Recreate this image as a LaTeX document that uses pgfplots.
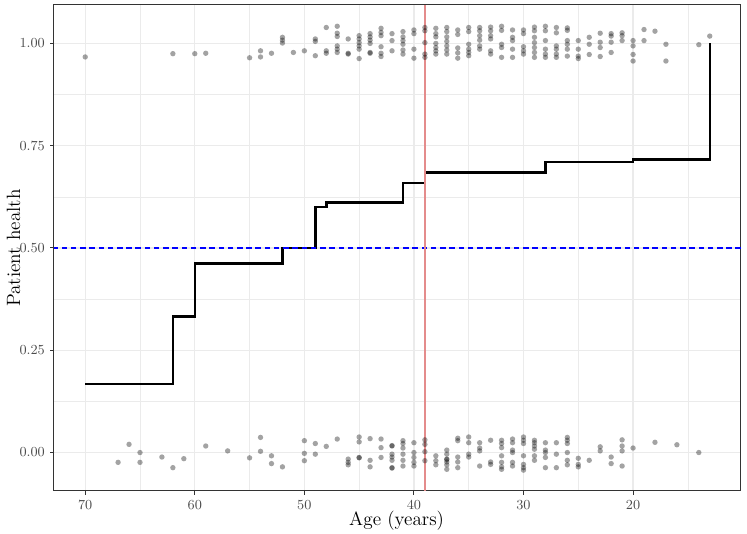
\documentclass[border=0pt]{standalone}
\usepackage{pgfplots}
\pgfplotsset{compat=1.18}
\usepackage{pgfplotstable}

\definecolor{gridc}{RGB}{235,235,235}
\definecolor{vred}{RGB}{228,140,140}

\pgfplotstableread{
x y
70 0.167
62 0.333
60 0.462
52 0.500
49 0.600
48 0.611
41 0.659
39 0.684
28 0.710
20 0.716
13 1.000
}\steptab

\pgfplotstableread{
x y
70 0.967
62 0.975
60 0.975
59 0.976
55 0.965
54 0.982
54 0.967
53 0.976
52 1.015
52 1.008
52 1.001
51 0.978
50 0.982
49 1.011
49 1.005
49 0.970
48 1.039
48 0.982
48 0.976
47 1.042
47 1.025
47 1.017
47 0.994
47 0.986
47 0.978
46 1.011
46 0.976
46 0.974
45 1.019
45 1.011
45 1.002
45 0.994
45 0.986
45 0.963
44 1.024
44 1.016
44 1.008
44 1.000
44 0.978
44 0.976
43 1.037
43 1.027
43 1.019
43 0.992
43 0.976
43 0.968
42 1.024
42 1.007
42 0.982
41 1.029
41 1.016
41 1.007
41 0.998
41 0.984
41 0.974
40 1.033
40 1.024
40 0.986
40 0.964
39 1.039
39 1.031
39 1.002
39 0.974
39 0.966
38 1.037
38 1.024
38 1.016
38 1.000
38 0.990
38 0.982
38 0.974
37 1.039
37 1.029
37 1.016
37 1.005
37 0.994
37 0.984
37 0.974
36 1.033
36 1.022
36 0.989
36 0.977
36 0.964
35 1.039
35 1.029
35 0.998
35 0.986
35 0.978
35 0.970
34 1.039
34 1.031
34 1.019
34 1.008
34 0.994
34 0.986
33 1.040
33 1.031
33 1.019
33 1.011
33 0.982
33 0.974
32 1.042
32 1.032
32 0.998
32 0.990
32 0.966
31 1.033
31 1.015
31 1.007
31 0.986
31 0.966
30 1.033
30 1.024
30 0.992
30 0.982
30 0.974
29 1.040
29 1.031
29 1.015
29 1.002
29 0.990
29 0.978
29 0.966
28 1.042
28 1.031
28 1.007
28 0.986
28 0.974
28 0.966
27 1.039
27 1.026
27 0.994
27 0.986
27 0.974
27 0.966
26 1.038
26 1.032
26 1.007
26 0.998
26 0.986
26 0.969
25 1.007
25 0.986
25 0.969
25 0.963
24 1.015
24 0.998
24 0.973
23 1.025
23 1.003
23 0.990
23 0.968
22 1.024
22 1.018
22 1.003
22 0.978
21 1.026
21 1.019
21 1.007
20 1.007
20 0.994
20 0.973
20 0.957
19 1.034
19 1.007
18 1.030
17 0.998
17 0.957
14 0.997
13 1.018
67 -0.024
66 0.020
65 0.000
65 -0.024
63 -0.011
62 -0.037
61 -0.015
59 0.016
57 0.004
55 -0.013
54 0.037
54 0.003
53 -0.008
53 -0.027
52 -0.035
50 0.029
50 -0.002
50 -0.020
49 0.022
49 -0.004
48 0.015
47 0.033
46 -0.016
46 -0.024
46 -0.030
45 0.038
45 0.026
45 -0.012
45 -0.013
44 0.034
44 -0.019
44 -0.035
43 0.033
43 0.012
43 -0.012
42 0.016
42 0.017
42 -0.004
42 -0.011
42 -0.019
42 -0.038
42 -0.037
41 0.029
41 0.022
41 0.011
41 -0.004
41 -0.019
41 -0.033
40 0.024
40 0.000
40 -0.012
40 -0.024
40 -0.033
39 0.031
39 0.020
39 0.002
39 -0.020
38 -0.008
38 -0.020
38 -0.030
37 0.006
37 -0.004
37 -0.016
37 -0.023
37 -0.030
37 -0.041
37 -0.017
36 0.035
36 0.029
36 -0.011
36 -0.023
36 -0.037
35 0.038
35 0.024
35 -0.004
35 -0.011
34 0.024
34 0.011
34 0.004
34 -0.033
33 0.030
33 -0.023
33 -0.029
32 0.030
32 0.022
32 0.012
32 -0.008
32 -0.024
32 -0.035
32 -0.041
31 0.033
31 0.024
31 0.006
31 0.000
31 -0.024
31 -0.033
30 0.038
30 0.030
30 0.022
30 -0.008
30 -0.029
30 -0.037
30 -0.043
29 0.030
29 0.024
29 0.016
29 0.008
29 -0.008
29 -0.019
28 0.024
28 0.006
28 0.000
28 -0.012
28 -0.037
27 0.024
27 -0.004
27 -0.037
26 0.037
26 0.030
26 0.022
26 0.000
26 -0.019
26 -0.030
25 -0.014
25 -0.029
25 -0.035
24 -0.019
23 0.014
23 0.004
22 -0.011
22 -0.027
21 0.031
21 0.016
21 0.004
21 -0.033
20 0.011
18 0.025
16 0.019
14 0.000
}\pointtab

\begin{document}
\begin{tikzpicture}
\begin{axis}[
  name=ax,
  scale only axis,
  width=446.55pt, height=315.9pt,
  x dir=reverse,
  xmin=10.15, xmax=72.85,
  ymin=-0.094, ymax=1.094,
  xtick={20,30,40,50,60,70},
  minor xtick={15,25,35,45,55,65},
  ytick={0,0.25,0.5,0.75,1},
  yticklabels={0.00,0.25,0.50,0.75,1.00},
  minor ytick={0.125,0.375,0.625,0.875},
  grid=both,
  major grid style={draw=gridc, line width=0.9pt},
  minor grid style={draw=gridc, line width=0.45pt},
  xtick pos=bottom, ytick pos=left,
  tick align=outside,
  major tick length=2.4pt,
  minor tick length=0pt,
  major tick style={draw=black!80, line width=0.65pt},
  axis line style={draw=black!80, line width=0.65pt},
  ticklabel style={font=\fontsize{9}{11}\selectfont, text=black!70},
  xlabel={Age (years)},
  ylabel={Patient health},
  every axis x label/.style={at={(axis cs:41.58,-0.179)}, anchor=base, inner sep=0pt, font=\fontsize{12.5}{15}\selectfont},
  every axis y label/.style={at={(axis cs:75.95,0.5)}, rotate=90, anchor=base, inner sep=0pt, font=\fontsize{12.5}{15}\selectfont},
  clip=true,
]
\addplot[only marks, mark=*, mark size=1.75pt,
  mark options={draw opacity=0, fill=black, fill opacity=0.36}]
  table[x=x, y=y] {\pointtab};
\addplot[const plot mark left, black, line width=1.6pt, line join=miter] table[x=x, y=y] {\steptab};
\addplot[blue, line width=0.75pt, dash pattern=on 3.6pt off 2.4pt] coordinates {(10.15,0.5) (72.85,0.5)};
\addplot[vred, line width=0.8pt] coordinates {(39,-0.094) (39,1.094)};
\end{axis}
\pgfresetboundingbox
\path[use as bounding box] ([shift={(-35.1pt,-27.95pt)}]ax.south west) rectangle ([shift={(3.9pt,3.25pt)}]ax.north east);
\end{tikzpicture}
\end{document}
